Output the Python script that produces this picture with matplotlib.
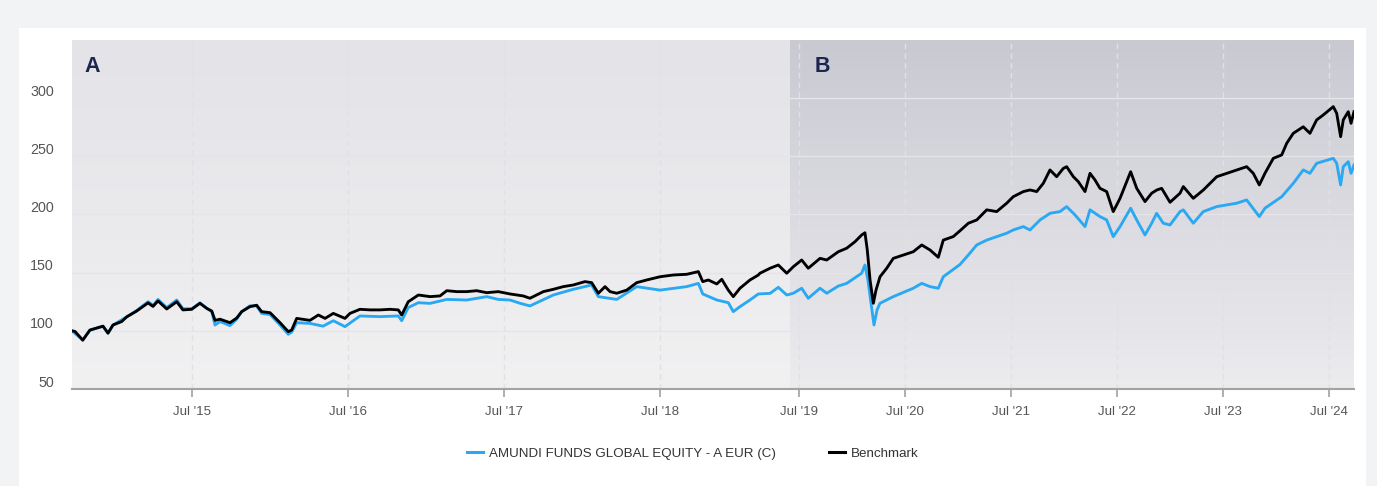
import numpy as np
import matplotlib
matplotlib.use('Agg')
import matplotlib.pyplot as plt
from matplotlib.transforms import ScaledTranslation
from matplotlib.lines import Line2D
from matplotlib.patches import Rectangle

plt.rcParams['font.family'] = ['Liberation Sans', 'DejaVu Sans']

# ---------------- data (time in decimal years, values indexed to 100) -------------
bench_t = [2014.727, 2014.746, 2014.796, 2014.842, 2014.926, 2014.958, 2014.990, 2015.046,
           2015.078, 2015.142, 2015.215, 2015.247, 2015.279, 2015.335, 2015.399, 2015.439,
           2015.495, 2015.548, 2015.591, 2015.624, 2015.645, 2015.677, 2015.741, 2015.784,
           2015.816, 2015.869, 2015.912, 2015.944, 2015.998, 2016.062, 2016.115, 2016.137,
           2016.169, 2016.254, 2016.308, 2016.351, 2016.404, 2016.479, 2016.511, 2016.575,
           2016.640, 2016.704, 2016.768, 2016.821, 2016.843, 2016.885, 2016.950, 2017.025,
           2017.089, 2017.132, 2017.196, 2017.260, 2017.324, 2017.389, 2017.463, 2017.538,
           2017.623, 2017.666, 2017.752, 2017.816, 2017.880, 2017.944, 2018.019, 2018.062,
           2018.105, 2018.148, 2018.180, 2018.223, 2018.287, 2018.351, 2018.415, 2018.501,
           2018.586, 2018.672, 2018.747, 2018.775, 2018.811, 2018.865, 2018.897, 2018.939,
           2018.971, 2019.014, 2019.078, 2019.132, 2019.142, 2019.207, 2019.260, 2019.314,
           2019.451, 2019.530, 2019.592, 2019.703, 2019.766, 2019.875, 2019.954, 2020.032,
           2020.095, 2020.126, 2020.148, 2020.174, 2020.205, 2020.230, 2020.268, 2020.331,
           2020.393, 2020.487, 2020.581, 2020.661, 2020.739, 2020.817, 2020.864, 2020.958,
           2021.021, 2021.100, 2021.179, 2021.273, 2021.367, 2021.461, 2021.523, 2021.618,
           2021.681, 2021.744, 2021.806, 2021.869, 2021.932, 2021.994, 2022.026, 2022.089,
           2022.136, 2022.199, 2022.246, 2022.293, 2022.340, 2022.403, 2022.465, 2022.529,
           2022.629, 2022.686, 2022.764, 2022.827, 2022.874, 2022.921, 2023.000, 2023.094,
           2023.125, 2023.219, 2023.313, 2023.440, 2023.534, 2023.628, 2023.722, 2023.784,
           2023.841, 2023.894, 2023.973, 2024.052, 2024.099, 2024.161, 2024.255, 2024.318,
           2024.381, 2024.444, 2024.538, 2024.570, 2024.607, 2024.632, 2024.679, 2024.705,
           2024.733]
bench_v = [100.0, 99.5, 92.0, 100.7, 104.0, 98.0, 105.0, 108.0,
           112.0, 117.0, 124.0, 121.0, 125.7, 118.8, 125.0, 118.0,
           118.5, 123.7, 119.4, 117.0, 109.0, 110.0, 107.0, 111.0,
           116.5, 120.8, 122.0, 116.5, 115.6, 107.0, 99.3, 100.7,
           110.7, 109.0, 113.6, 110.7, 115.0, 110.7, 115.0, 118.5,
           118.0, 118.0, 118.5, 118.0, 113.6, 125.0, 130.8, 129.4,
           130.0, 134.5, 133.7, 133.7, 134.5, 132.8, 133.7, 131.7,
           130.0, 128.0, 133.7, 135.7, 138.0, 139.4, 142.3, 141.4,
           132.3, 138.0, 133.7, 132.3, 135.0, 141.4, 143.7, 146.5,
           148.0, 148.6, 150.9, 142.3, 143.7, 140.3, 144.3, 135.0,
           129.4, 136.6, 143.7, 148.0, 149.5, 153.8, 156.6, 149.5,
           155.1, 160.9, 153.8, 162.3, 160.9, 168.0, 171.0, 176.6,
           182.4, 184.3, 169.5, 143.7, 123.7, 135.0, 146.5, 153.8,
           162.3, 165.2, 168.0, 173.8, 169.5, 163.2, 178.0, 181.0,
           186.0, 192.5, 195.3, 204.0, 202.5, 209.7, 215.3, 219.7,
           221.1, 219.7, 226.8, 238.3, 232.5, 239.6, 241.1, 232.5,
           228.2, 219.7, 235.4, 229.7, 222.5, 219.7, 202.5, 213.9,
           236.8, 222.5, 211.1, 218.3, 221.0, 222.5, 210.5, 218.3,
           224.0, 213.9, 221.0, 232.5, 235.4, 238.3, 241.1, 235.4,
           225.4, 235.4, 248.3, 251.2, 261.2, 269.8, 275.4, 269.8,
           281.3, 285.6, 292.7, 287.0, 266.9, 281.3, 288.4, 278.4,
           288.4]

fund_t = [2014.727, 2014.796, 2014.842, 2014.926, 2014.958, 2014.990, 2015.078, 2015.142,
          2015.215, 2015.247, 2015.279, 2015.335, 2015.399, 2015.439, 2015.495, 2015.548,
          2015.591, 2015.624, 2015.645, 2015.677, 2015.741, 2015.784, 2015.816, 2015.869,
          2015.912, 2015.944, 2015.998, 2016.062, 2016.115, 2016.137, 2016.169, 2016.254,
          2016.338, 2016.404, 2016.479, 2016.575, 2016.704, 2016.821, 2016.843, 2016.885,
          2016.950, 2017.025, 2017.132, 2017.260, 2017.389, 2017.463, 2017.538, 2017.602,
          2017.666, 2017.816, 2017.944, 2018.062, 2018.105, 2018.223, 2018.351, 2018.501,
          2018.672, 2018.747, 2018.775, 2018.865, 2018.939, 2018.971, 2019.014, 2019.078,
          2019.132, 2019.207, 2019.260, 2019.314,
          2019.451, 2019.530, 2019.592, 2019.703, 2019.766, 2019.875, 2019.954, 2020.095,
          2020.126, 2020.154, 2020.192, 2020.211, 2020.240, 2020.268, 2020.393, 2020.581,
          2020.661, 2020.739, 2020.817, 2020.864, 2021.021, 2021.100, 2021.179, 2021.273,
          2021.367, 2021.461, 2021.523, 2021.618, 2021.681, 2021.775, 2021.869, 2021.963,
          2022.026, 2022.105, 2022.199, 2022.246, 2022.340, 2022.403, 2022.465, 2022.529,
          2022.629, 2022.686, 2022.764, 2022.827, 2022.874, 2022.936, 2023.000, 2023.094,
          2023.125, 2023.219, 2023.313, 2023.440, 2023.628, 2023.722, 2023.841, 2023.894,
          2024.052, 2024.161, 2024.255, 2024.318, 2024.381, 2024.538, 2024.570, 2024.607,
          2024.632, 2024.679, 2024.705, 2024.733]
fund_v = [100.0, 92.0, 100.5, 104.0, 98.0, 105.0, 112.0, 117.5,
          125.0, 122.0, 127.0, 120.0, 126.5, 119.0, 119.0, 124.0,
          119.5, 116.5, 105.0, 108.0, 104.5, 110.0, 116.5, 121.5,
          121.5, 115.0, 114.0, 105.0, 97.0, 99.0, 107.0, 106.4,
          104.0, 108.7, 103.6, 112.8, 112.2, 112.8, 108.7, 120.0,
          124.2, 123.6, 127.0, 126.5, 129.4, 127.0, 126.5, 123.7,
          121.4, 130.8, 135.7, 139.4, 129.4, 127.0, 138.0, 135.0,
          138.0, 140.8, 131.7, 126.5, 124.2, 116.5, 120.8, 126.5,
          131.7, 132.2, 137.4, 130.8,
          132.3, 136.6, 128.0, 136.6, 132.3, 138.5, 140.8, 149.5,
          156.6, 143.7, 118.0, 105.0, 118.0, 123.7, 129.4, 136.6,
          140.8, 138.0, 136.6, 146.5, 157.0, 165.2, 173.8, 178.0,
          181.0, 183.9, 186.7, 189.6, 186.7, 195.3, 201.0, 202.5,
          206.8, 199.6, 189.6, 204.0, 198.2, 195.3, 181.0, 189.6,
          205.4, 195.3, 182.4, 192.5, 201.0, 192.5, 191.0, 202.5,
          204.0, 192.5, 202.5, 206.8, 209.7, 212.5, 198.2, 205.4,
          215.3, 226.8, 238.3, 235.4, 244.0, 248.3, 244.0, 225.4,
          241.1, 245.4, 235.4, 242.6]

series_names = ['AMUNDI FUNDS GLOBAL EQUITY - A EUR (C)', 'Benchmark']
series_colors = ['#2aa8f2', '#000000']
period_labels = ['A', 'B']
y_ticks = [50, 100, 150, 200, 250, 300]
x_tick_years = [2015.5, 2016.5, 2017.5, 2018.5, 2019.5, 2020.5, 2021.5, 2022.5, 2023.5, 2024.5]
x_tick_labels = ["Jul '15", "Jul '16", "Jul '17", "Jul '18", "Jul '19",
                 "Jul '20", "Jul '21", "Jul '22", "Jul '23", "Jul '24"]

# ---------------- piecewise time scale (two zoom periods) ------------------------
t_start, t_break_a, t_break_b, t_end = 2014.727, 2019.335, 2019.42, 2024.733
SCALE_T = [2000.0, t_start, t_break_a, t_break_b, t_end, 2040.0]
SCALE_P = [72 - (t_start - 2000.0) * 155.8, 72.0, 790.0, 790.01, 1354.0,
           1354.0 + (2040.0 - t_end) * 106.16]


def fwd(v):
    return np.interp(np.asarray(v, dtype=float), SCALE_T, SCALE_P)


def inv(p):
    return np.interp(np.asarray(p, dtype=float), SCALE_P, SCALE_T)


# ---------------- figure -----------------------------------------------------------
W, H = 1377, 486
fig = plt.figure(figsize=(W / 100, H / 100), dpi=100, facecolor='#f2f3f5')
fig.patches.append(Rectangle((19 / W, 0), (1366 - 19) / W, (486 - 28) / H,
                             transform=fig.transFigure, facecolor='white',
                             edgecolor='none', zorder=-1))

pos = [72 / W, 97 / H, 1282 / W, 349 / H]
fb = (790 - 72) / 1282

bg = fig.add_axes(pos, zorder=0)
bg.set_axis_off()
n = 256
s = np.linspace(0, 1, n)[:, None]
topA, botA = np.array([227, 227, 232]) / 255, np.array([241, 241, 242]) / 255
topB, botB = np.array([201, 201, 210]) / 255, np.array([236, 236, 239]) / 255
gradA = (topA * (1 - s) + botA * s).reshape(n, 1, 3)
gradB = (topB * (1 - s) + botB * s).reshape(n, 1, 3)
bg.imshow(gradA, extent=[0, 1, 0, 1], aspect='auto', interpolation='bilinear')
bg.imshow(gradB, extent=[fb, 1, 0, 1], aspect='auto', interpolation='bilinear')
bg.set_xlim(0, 1)
bg.set_ylim(0, 1)

ax = fig.add_axes(pos, zorder=1)
ax.set_facecolor('none')
ax.set_xscale('function', functions=(fwd, inv))

ax.plot(fund_t, fund_v, color=series_colors[0], lw=2.05, zorder=3, solid_joinstyle='round')
ax.plot(bench_t, bench_v, color=series_colors[1], lw=2.05, zorder=4, solid_joinstyle='round')

ax.set_xlim(t_start, t_end)
ax.set_ylim(50, 350)

# grid
ax.set_yticks(y_ticks)
ax.set_xticks(x_tick_years)
ax.set_xticklabels(x_tick_labels)
for yv in y_ticks[1:]:
    ax.axhline(yv, color='#e4e4e9', lw=1.0, zorder=1)
for xv in x_tick_years:
    ax.axvline(xv, color='#e0e0e5', lw=1.0, ls=(0, (4, 3)), zorder=1)

for side in ['top', 'right', 'left']:
    ax.spines[side].set_visible(False)
ax.spines['bottom'].set_color('#a3a3a3')
ax.spines['bottom'].set_linewidth(1.5)

ax.tick_params(axis='y', length=0, pad=13, labelsize=10.3, labelcolor='#555555')
ax.tick_params(axis='x', length=6, width=1.1, color='#999999', pad=6,
               labelsize=9.5, labelcolor='#555555')
off = ScaledTranslation(0, 8 / 100, fig.dpi_scale_trans)
for lab in ax.get_yticklabels():
    lab.set_transform(lab.get_transform() + off)

# period labels
ax.text((84 - 72) / 1282, (389 - 67) / 349, period_labels[0], transform=ax.transAxes,
        ha='left', va='center', fontsize=15.5, fontweight='bold', color='#1b2550')
ax.text((815 - 72) / 1282, (389 - 67) / 349, period_labels[1], transform=ax.transAxes,
        ha='left', va='center', fontsize=15.5, fontweight='bold', color='#1b2550')

handles = [Line2D([], [], color=c, lw=2.2) for c in series_colors]
fig.legend(handles, series_names, loc='center', bbox_to_anchor=(693 / W, 32 / H),
           ncol=2, frameon=False, fontsize=9.6, handlelength=1.2, handletextpad=0.45,
           columnspacing=4.0, labelcolor='#333333')

fig.savefig('out.png', dpi=100, facecolor=fig.get_facecolor())
